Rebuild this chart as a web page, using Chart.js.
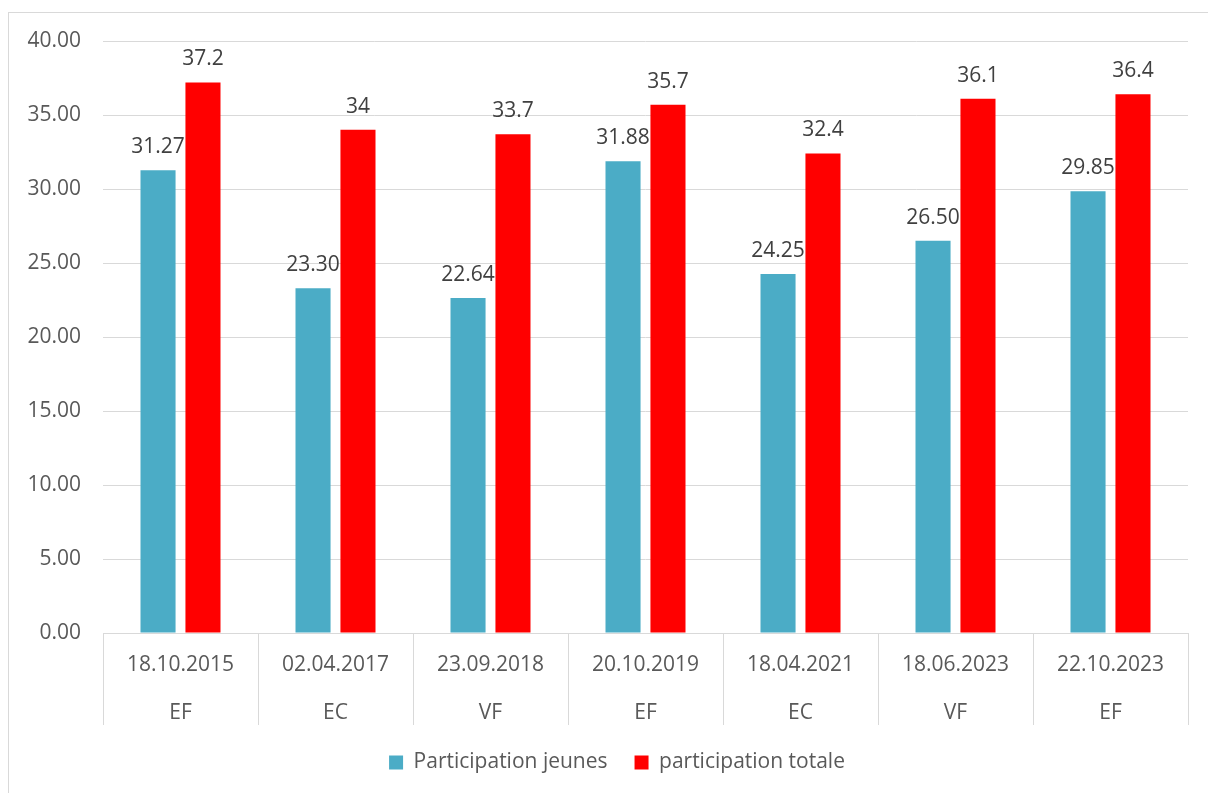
<!DOCTYPE html>
<html>
<head>
<meta charset="utf-8">
<script src="https://cdn.jsdelivr.net/npm/chart.js@4/dist/chart.umd.min.js"></script>
<style>
  html, body { margin: 0; padding: 0; background: #fff; }
  #wrap { width: 1208px; height: 793px; }
</style>
</head>
<body>
<div id="wrap"><canvas id="chart" width="1208" height="793"></canvas></div>
<script>
// data
const dates = ['18.10.2015', '02.04.2017', '23.09.2018', '20.10.2019', '18.04.2021', '18.06.2023', '22.10.2023'];
const types = ['EF', 'EC', 'VF', 'EF', 'EC', 'VF', 'EF'];
const jeunes = [31.27, 23.30, 22.64, 31.88, 24.25, 26.50, 29.85];
const totale = [37.2, 34, 33.7, 35.7, 32.4, 36.1, 36.4];
const yTicks = [0, 5, 10, 15, 20, 25, 30, 35, 40];

const FONT = '"Open Sans", sans-serif';
const GRID = '#d9d9d9';

// light frame round the whole chart
const framePlugin = {
    id: 'frame',
    beforeDraw(chart) {
        const ctx = chart.ctx;
        ctx.save();
        ctx.strokeStyle = GRID;
        ctx.lineWidth = 1;
        ctx.strokeRect(8.5, 12.5, 1400, 1000);
        ctx.restore();
    }
};

// value labels above the bars
const valueLabels = {
    id: 'valueLabels',
    afterDatasetsDraw(chart) {
        const ctx = chart.ctx;
        ctx.save();
        ctx.font = '21px ' + FONT;
        ctx.fillStyle = '#404040';
        ctx.textAlign = 'center';
        ctx.textBaseline = 'alphabetic';
        chart.data.datasets.forEach((ds, i) => {
            const meta = chart.getDatasetMeta(i);
            meta.data.forEach((bar, j) => {
                const v = ds.data[j];
                const txt = i === 0 ? v.toFixed(2) : String(v);
                ctx.fillText(txt, bar.x, bar.y - 17);
            });
        });
        ctx.restore();
    }
};

new Chart(document.getElementById('chart'), {
    type: 'bar',
    data: {
        labels: dates.map((d, i) => [d, types[i]]),
        datasets: [
            {
                label: 'Participation jeunes',
                data: jeunes,
                backgroundColor: '#4bacc6',
                barPercentage: 0.78,
                categoryPercentage: 0.58
            },
            {
                label: 'participation totale',
                data: totale,
                backgroundColor: '#ff0000',
                barPercentage: 0.78,
                categoryPercentage: 0.58
            }
        ]
    },
    options: {
        responsive: false,
        animation: false,
        layout: { padding: { top: 41, right: 0, left: 26, bottom: 10 } },
        plugins: {
            tooltip: { enabled: false },
            legend: {
                position: 'bottom',
                labels: {
                    font: { family: FONT, size: 21 },
                    color: '#595959',
                    boxWidth: 14,
                    boxHeight: 14,
                    padding: 27
                }
            }
        },
        scales: {
            x: {
                grid: {
                    offset: true,
                    drawOnChartArea: false,
                    drawTicks: true,
                    tickLength: 92,
                    color: GRID
                },
                border: { color: GRID },
                ticks: {
                    padding: -84,
                    color: '#595959',
                    font: { family: FONT, size: 21, lineHeight: 2.3 },
                    maxRotation: 0,
                    autoSkip: false
                },
                afterFit(scale) { scale.height = 92; }
            },
            y: {
                min: 0,
                max: 40,
                afterBuildTicks(scale) { scale.ticks = yTicks.map(v => ({ value: v })); },
                grid: { color: GRID, drawTicks: false },
                border: { display: false },
                ticks: {
                    padding: 22,
                    color: '#595959',
                    font: { family: FONT, size: 21 },
                    callback: v => Number(v).toFixed(2)
                },
                afterFit(scale) { scale.width = 77; }
            },
            // empty right margin so the plot ends where the reference does
            yRight: {
                position: 'right',
                grid: { drawOnChartArea: false, drawTicks: false },
                border: { display: false },
                ticks: { display: false },
                afterFit(scale) { scale.width = 20; }
            }
        }
    },
    plugins: [framePlugin, valueLabels]
});
</script>
</body>
</html>
